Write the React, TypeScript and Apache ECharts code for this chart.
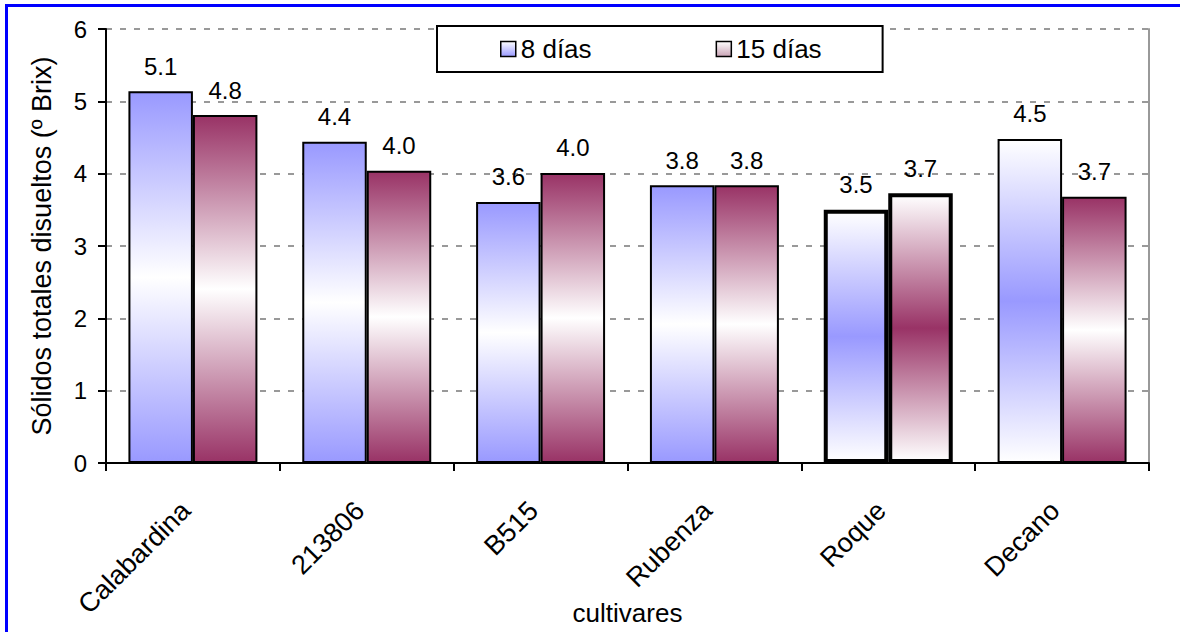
import React, { useEffect, useRef } from "react";
import * as echarts from "echarts";

const categories = ["Calabardina", "213806", "B515", "Rubenza", "Roque", "Decano"];
const seriesNames = ["8 días", "15 días"];
const values8 = [5.14, 4.44, 3.61, 3.84, 3.5, 4.48];
const values15 = [4.81, 4.04, 4.01, 3.84, 3.73, 3.68];
// gradient pattern per bar: "edge" = colour at top/bottom, white in the middle; "mid" = white at ends, colour in middle
const pattern8 = ["edge", "edge", "edge", "edge", "mid", "mid"];
const pattern15 = ["edge", "edge", "edge", "edge", "mid", "edge"];
const thickBorder = [false, false, false, false, true, false];
const yTicks = [0, 1, 2, 3, 4, 5, 6];

const BLUE = "#9999FF";
const MAROON = "#993366";
const FONT = "Liberation Sans, Arial, sans-serif";

function grad(color: string, pat: string) {
  const a = pat === "edge" ? color : "#ffffff";
  const b = pat === "edge" ? "#ffffff" : color;
  return new echarts.graphic.LinearGradient(0, 0, 0, 1, [
    { offset: 0, color: a },
    { offset: 0.5, color: b },
    { offset: 1, color: a },
  ]);
}

function makeData(vals: number[], pats: string[], color: string) {
  return vals.map((v, i) => ({
    value: v,
    itemStyle: {
      color: grad(color, pats[i]),
      borderColor: "#000",
      borderWidth: thickBorder[i] ? 4 : 2,
    },
  }));
}

export default function App() {
  const ref = useRef<HTMLDivElement>(null);
  useEffect(() => {
    document.body.style.margin = "0";
    const chart = echarts.init(ref.current!, null, { renderer: "svg" });
    const labelCfg = {
      show: true,
      position: "top",
      distance: 13,
      fontSize: 24,
      fontFamily: FONT,
      color: "#000",
      formatter: (p: any) => Number(p.value).toFixed(1),
    };
    chart.setOption({
      animation: false,
      backgroundColor: "#fff",
      textStyle: { fontFamily: FONT },
      graphic: [
        {
          type: "rect",
          shape: { x: 6.5, y: 5.5, width: 1200, height: 700 },
          style: { fill: "none", stroke: "#0000ff", lineWidth: 3 },
          silent: true,
          z: 100,
        },
      ],
      grid: { left: 106, top: 29, right: 31, bottom: 169, containLabel: false, outerBoundsMode: "none" },
      legend: {
        left: 437,
        top: 26,
        padding: [10, 61, 10, 63],
        itemGap: 124,
        itemWidth: 15,
        itemHeight: 15,
        backgroundColor: "#fff",
        borderColor: "#000",
        borderWidth: 2,
        borderRadius: 0,
        icon: "rect",
        textStyle: { fontSize: 26, fontFamily: FONT, color: "#000", lineHeight: 26 },
        data: [
          {
            name: seriesNames[0],
            itemStyle: {
              color: new echarts.graphic.LinearGradient(0, 0, 0, 1, [
                { offset: 0, color: "#ffffff" },
                { offset: 1, color: BLUE },
              ]),
              borderColor: "#000",
              borderWidth: 1.5,
            },
          },
          {
            name: seriesNames[1],
            itemStyle: {
              color: new echarts.graphic.LinearGradient(0, 0, 0, 1, [
                { offset: 0, color: "#ffffff" },
                { offset: 1, color: "#c9a3b5" },
              ]),
              borderColor: "#000",
              borderWidth: 1.5,
            },
          },
        ],
        z: 50,
      },
      xAxis: {
        type: "category",
        data: categories,
        boundaryGap: true,
        axisLine: { lineStyle: { color: "#000", width: 2 } },
        axisTick: { show: true, length: 8, lineStyle: { color: "#000", width: 2 }, alignWithLabel: false },
        axisLabel: {
          rotate: 45,
          fontSize: 27,
          fontFamily: FONT,
          color: "#000",
          margin: 36,
          interval: 0,
          padding: [0, 10, 0, 0],
        },
        name: "cultivares",
        nameLocation: "middle",
        nameGap: 137,
        nameMoveOverlap: false,
        nameTextStyle: { fontSize: 26, fontFamily: FONT, color: "#000" },
      },
      yAxis: [
        {
          type: "value",
          min: yTicks[0],
          max: yTicks[yTicks.length - 1],
          interval: 1,
          axisLine: { show: true, lineStyle: { color: "#000", width: 2 } },
          axisTick: { show: true, length: 8, lineStyle: { color: "#000", width: 2 } },
          axisLabel: { fontSize: 24, fontFamily: FONT, color: "#000", margin: 19 },
          splitLine: { show: true, lineStyle: { color: "#999", width: 2, type: [6, 8] } },
          name: "Sólidos totales disueltos (º Brix)",
          nameLocation: "middle",
          nameGap: 51,
          nameMoveOverlap: false,
          nameTextStyle: { fontSize: 27, fontFamily: FONT, color: "#000" },
        },
        {
          type: "value",
          position: "right",
          min: yTicks[0],
          max: yTicks[yTicks.length - 1],
          interval: 1,
          axisLine: { show: true, lineStyle: { color: "#999", width: 2 } },
          axisTick: { show: false },
          axisLabel: { show: false },
          splitLine: { show: false },
        },
      ],
      series: [
        {
          name: seriesNames[0],
          type: "bar",
          barGap: "0%",
          barCategoryGap: "25.8%",
          data: makeData(values8, pattern8, BLUE),
          label: labelCfg,
        },
        {
          name: seriesNames[1],
          type: "bar",
          data: makeData(values15, pattern15, MAROON),
          label: labelCfg,
        },
      ],
    });
    return () => chart.dispose();
  }, []);
  return <div ref={ref} style={{ width: 1180, height: 632 }} />;
}
